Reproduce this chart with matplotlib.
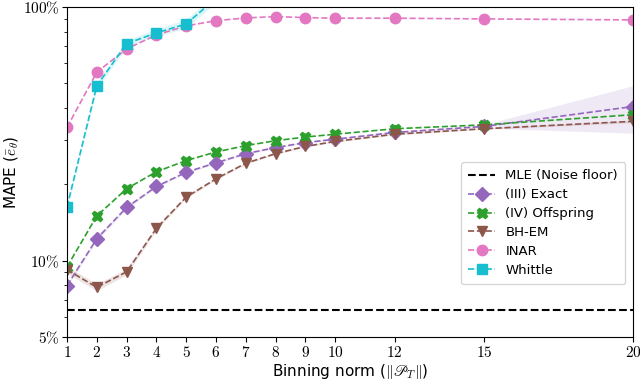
import numpy as np
import matplotlib.pyplot as plt
from matplotlib.ticker import FixedLocator, LogLocator, NullFormatter

plt.rcParams['mathtext.fontset'] = 'cm'
plt.rcParams['font.family'] = 'DejaVu Sans'

# Binning norms and MAPE (%) per estimator
norms = [1, 2, 3, 4, 5, 6, 7, 8, 9, 10, 12, 15, 20]
mle_floor = 6.41
exact = [7.97, 12.2, 16.2, 19.6, 22.3, 24.3, 26.4, 27.9, 29.2, 30.1, 32.0, 33.8, 40.5]
offspring = [9.45, 15.0, 19.2, 22.4, 24.8, 26.8, 28.4, 29.7, 30.7, 31.5, 33.1, 34.3, 37.6]
bhem = [9.2, 7.85, 9.03, 13.4, 17.8, 21.0, 24.2, 26.4, 28.2, 29.5, 31.5, 33.1, 35.4]
inar = [33.5, 55.3, 68.3, 77.6, 84.2, 88.3, 90.5, 91.6, 90.8, 90.3, 90.3, 89.7, 88.9]
whittle_norms = [1, 2, 3, 4, 5, 6, 7]
whittle = [16.3, 48.9, 71.7, 79.0, 85.7, 108.0, 125.0]

# Spread across runs (lower, upper) where it is visible
exact_lo = [7.9, 12.0, 16.0, 19.4, 22.1, 24.1, 26.2, 27.7, 29.0, 29.9, 31.7, 33.3, 31.8]
exact_hi = [8.05, 12.4, 16.4, 19.8, 22.5, 24.5, 26.6, 28.1, 29.4, 30.4, 32.4, 34.4, 48.9]
bhem_lo = [8.9, 7.6, 8.8, 13.2, 17.6, 20.8, 24.0, 26.2, 28.0, 29.3, 31.3, 32.9, 35.0]
bhem_hi = [9.5, 8.1, 9.3, 13.6, 18.0, 21.2, 24.4, 26.6, 28.4, 29.7, 31.7, 33.3, 35.8]
whittle_lo = [16.0, 47.5, 69.5, 76.5, 82.5, 104.0, 119.0]
whittle_hi = [16.6, 50.5, 74.0, 82.0, 89.5, 113.0, 131.0]

fig = plt.figure(figsize=(6.4, 3.86), dpi=100)
ax = fig.add_axes([0.1047, 0.127, 0.8843, 0.855])

ax.axhline(mle_floor, color='black', ls='--', lw=1.5, label='MLE (Noise floor)')

series = [
    ('(III) Exact', exact, norms, '#9467bd', 'D', exact_lo, exact_hi),
    ('(IV) Offspring', offspring, norms, '#2ca02c', 'X', None, None),
    ('BH-EM', bhem, norms, '#8c564b', 'v', bhem_lo, bhem_hi),
    ('INAR', inar, norms, '#e377c2', 'o', None, None),
    ('Whittle', whittle, whittle_norms, '#17becf', 's', whittle_lo, whittle_hi),
]
for label, vals, xs, col, mk, lo, hi in series:
    if lo is not None:
        ax.fill_between(xs, lo, hi, color=col, alpha=0.15, lw=0)
    ax.plot(xs, vals, ls='--', color=col, marker=mk, ms=7.5, lw=1.2, label=label)

ax.set_yscale('log')
ax.set_xlim(1, 20)
ax.set_ylim(5, 100)

ax.xaxis.set_major_locator(FixedLocator(norms))
ax.set_xticklabels([f'${n}$' for n in norms])
ax.yaxis.set_major_locator(FixedLocator([5, 10, 100]))
ax.set_yticklabels([r'$5\%$', r'$10\%$', r'$100\%$'])
ax.yaxis.set_minor_locator(LogLocator(base=10, subs=np.arange(2, 10)))
ax.yaxis.set_minor_formatter(NullFormatter())
ax.tick_params(labelsize=11, pad=2)

ax.set_xlabel(r'Binning norm ($\|\mathscr{P}_T\|$)', fontsize=11, labelpad=2)
ax.set_ylabel(r'MAPE ($\bar{e}_\theta$)', fontsize=11, labelpad=1)

ax.legend(loc='center right', bbox_to_anchor=(0.998, 0.345), fontsize=9.5,
          handlelength=2.0, borderpad=0.55, labelspacing=0.45)

fig.savefig('out.png', dpi=100)
